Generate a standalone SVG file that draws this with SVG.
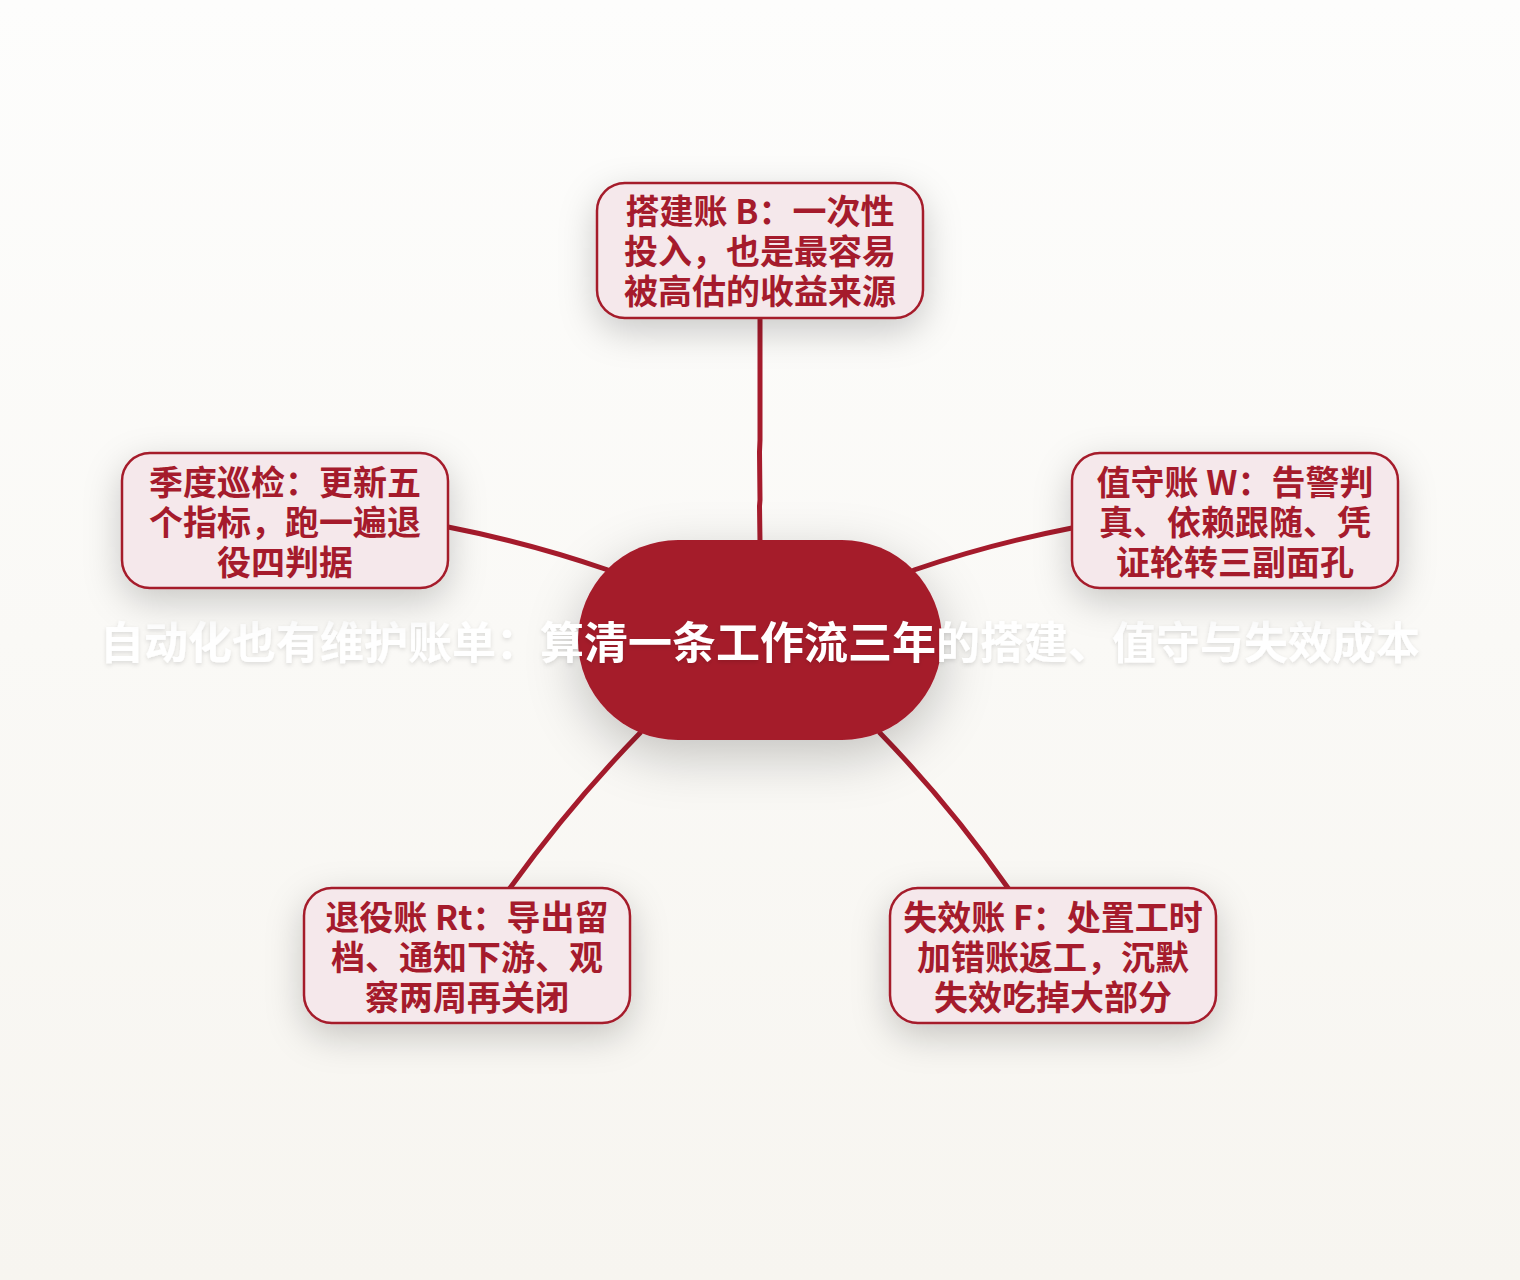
<svg xmlns="http://www.w3.org/2000/svg" width="1520" height="1280" viewBox="0 0 1520 1280">
<defs>
<linearGradient id="bg" x1="0" y1="0" x2="0" y2="1">
<stop offset="0" stop-color="#fdfdfc"/>
<stop offset="1" stop-color="#f7f5f0"/>
</linearGradient>
<filter id="shadow" x="-40%" y="-40%" width="180%" height="190%">
<feDropShadow dx="0" dy="12" stdDeviation="18" flood-color="#000" flood-opacity="0.2"/>
</filter>
<filter id="cshadow" x="-40%" y="-40%" width="180%" height="190%">
<feDropShadow dx="0" dy="16" stdDeviation="26" flood-color="#000" flood-opacity="0.22"/>
</filter>
<filter id="tshadow" x="-5%" y="-30%" width="110%" height="160%">
<feDropShadow dx="0" dy="2" stdDeviation="2" flood-color="#000" flood-opacity="0.12"/>
</filter>
</defs>
<style>
.box{fill:#f5e8eb;stroke:#a51b2c;stroke-width:2.5}
.lbl{font-family:"Noto Sans CJK SC","Noto Sans",sans-serif;font-weight:700;font-size:34px;fill:#a51b2c;text-anchor:middle}
.conn{fill:none;stroke:#a51b2c;stroke-width:5;stroke-linecap:round}
.title{font-family:"Noto Sans CJK SC","Noto Sans",sans-serif;font-weight:700;font-size:44px;fill:#ffffff;text-anchor:middle}
</style>
<rect x="0" y="0" width="1520" height="1280" fill="url(#bg)"/>
<g id="connectors">
<path class="conn" d="M760,318 L760,440 L759.5,452 L760,500 L759.5,506 L760,542"/>
<path class="conn" d="M448,527 Q530,543 608,570"/>
<path class="conn" d="M1072,528 Q990,544 914,570"/>
<path class="conn" d="M640,733 Q570,805 510,888"/>
<path class="conn" d="M880,733 Q950,805 1008,888"/>
</g>
<g id="center">
<rect x="578" y="540" width="364" height="200" rx="100" ry="100" fill="#a51b2c" filter="url(#cshadow)"/>
<text class="title" x="760" y="659" filter="url(#tshadow)">自动化也有维护账单：算清一条工作流三年的搭建、值守与失效成本</text>
</g>
<g id="build">
<rect class="box" x="597" y="183" width="326" height="135" rx="28" filter="url(#shadow)"/>
<text class="lbl"><tspan x="760" y="224">搭建账 B：一次性</tspan><tspan x="760" y="264">投入，也是最容易</tspan><tspan x="760" y="304">被高估的收益来源</tspan></text>
</g>
<g id="quarterly">
<rect class="box" x="122" y="453" width="326" height="135" rx="28" filter="url(#shadow)"/>
<text class="lbl"><tspan x="285" y="495">季度巡检：更新五</tspan><tspan x="285" y="535">个指标，跑一遍退</tspan><tspan x="285" y="575">役四判据</tspan></text>
</g>
<g id="watch">
<rect class="box" x="1072" y="453" width="326" height="135" rx="28" filter="url(#shadow)"/>
<text class="lbl"><tspan x="1235" y="495">值守账 W：告警判</tspan><tspan x="1235" y="535">真、依赖跟随、凭</tspan><tspan x="1235" y="575">证轮转三副面孔</tspan></text>
</g>
<g id="retire">
<rect class="box" x="304" y="888" width="326" height="135" rx="28" filter="url(#shadow)"/>
<text class="lbl"><tspan x="467" y="930">退役账 Rt：导出留</tspan><tspan x="467" y="970">档、通知下游、观</tspan><tspan x="467" y="1010">察两周再关闭</tspan></text>
</g>
<g id="failure">
<rect class="box" x="890" y="888" width="326" height="135" rx="28" filter="url(#shadow)"/>
<text class="lbl"><tspan x="1053" y="930">失效账 F：处置工时</tspan><tspan x="1053" y="970">加错账返工，沉默</tspan><tspan x="1053" y="1010">失效吃掉大部分</tspan></text>
</g>
</svg>
